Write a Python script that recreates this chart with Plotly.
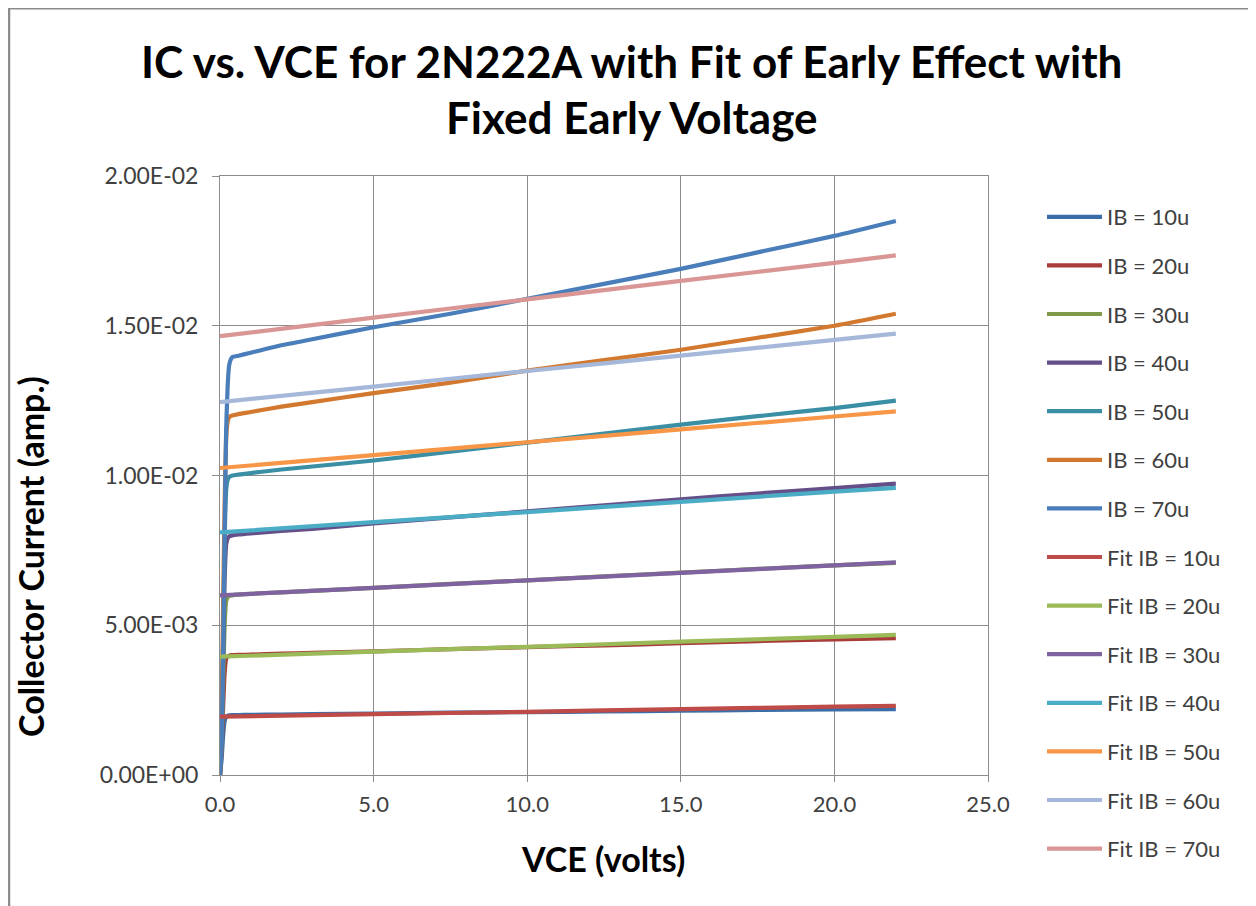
import plotly.graph_objects as go

# ---------------- data ----------------
vce_meas = [0, 0.05, 0.1, 0.15, 0.2, 0.25, 0.3, 0.4, 0.6, 1, 2, 3, 5, 7.5, 10, 12.5, 15, 17.5, 20, 22]
ic_10u = [0, 0.5e-3, 1.3e-3, 1.8e-3, 1.95e-3, 1.98e-3, 1.99e-3, 2.0e-3, 2.0e-3, 2.01e-3, 2.02e-3, 2.03e-3, 2.05e-3, 2.08e-3, 2.1e-3, 2.12e-3, 2.15e-3, 2.17e-3, 2.19e-3, 2.2e-3]
ic_20u = [0, 0.8e-3, 2.2e-3, 3.4e-3, 3.88e-3, 3.95e-3, 3.98e-3, 4.0e-3, 4.01e-3, 4.02e-3, 4.05e-3, 4.08e-3, 4.13e-3, 4.2e-3, 4.27e-3, 4.33e-3, 4.4e-3, 4.47e-3, 4.53e-3, 4.57e-3]
ic_30u = [0, 1.0e-3, 3.0e-3, 5.0e-3, 5.8e-3, 5.93e-3, 5.98e-3, 6.0e-3, 6.02e-3, 6.05e-3, 6.1e-3, 6.15e-3, 6.25e-3, 6.38e-3, 6.5e-3, 6.63e-3, 6.76e-3, 6.88e-3, 7.0e-3, 7.08e-3]
ic_40u = [0, 1.2e-3, 3.8e-3, 6.5e-3, 7.7e-3, 7.9e-3, 7.97e-3, 8.0e-3, 8.03e-3, 8.07e-3, 8.15e-3, 8.22e-3, 8.4e-3, 8.6e-3, 8.8e-3, 9.0e-3, 9.2e-3, 9.4e-3, 9.58e-3, 9.73e-3]
ic_50u = [0, 1.5e-3, 4.5e-3, 7.8e-3, 9.5e-3, 9.85e-3, 9.95e-3, 10.0e-3, 10.03e-3, 10.08e-3, 10.2e-3, 10.3e-3, 10.5e-3, 10.8e-3, 11.1e-3, 11.4e-3, 11.7e-3, 11.98e-3, 12.25e-3, 12.5e-3]
ic_60u = [0, 1.8e-3, 5.5e-3, 9.0e-3, 11.2e-3, 11.8e-3, 11.95e-3, 12.0e-3, 12.05e-3, 12.12e-3, 12.3e-3, 12.45e-3, 12.75e-3, 13.1e-3, 13.5e-3, 13.85e-3, 14.2e-3, 14.6e-3, 15.0e-3, 15.4e-3]
ic_70u = [0, 1.0e-3, 4.0e-3, 8.0e-3, 11.5e-3, 13.0e-3, 13.7e-3, 13.95e-3, 14.0e-3, 14.1e-3, 14.35e-3, 14.55e-3, 14.95e-3, 15.4e-3, 15.9e-3, 16.4e-3, 16.9e-3, 17.45e-3, 18.0e-3, 18.5e-3]

vce_fit = [0, 5, 10, 15, 20, 22]
fit_10u = [1.95e-3, 2.03e-3, 2.11e-3, 2.2e-3, 2.28e-3, 2.31e-3]
fit_20u = [3.95e-3, 4.12e-3, 4.28e-3, 4.45e-3, 4.61e-3, 4.68e-3]
fit_30u = [6.0e-3, 6.25e-3, 6.5e-3, 6.75e-3, 7.0e-3, 7.1e-3]
fit_40u = [8.1e-3, 8.44e-3, 8.78e-3, 9.12e-3, 9.46e-3, 9.59e-3]
fit_50u = [10.25e-3, 10.68e-3, 11.11e-3, 11.54e-3, 11.97e-3, 12.14e-3]
fit_60u = [12.45e-3, 12.97e-3, 13.49e-3, 14.0e-3, 14.53e-3, 14.74e-3]
fit_70u = [14.65e-3, 15.27e-3, 15.88e-3, 16.5e-3, 17.1e-3, 17.35e-3]

y_tickvals = [0, 0.005, 0.01, 0.015, 0.02]
y_ticktext = ["0.00E+00", "5.00E-03", "1.00E-02", "1.50E-02", "2.00E-02"]
x_tickvals = [0, 5, 10, 15, 20, 25]

title_lines = ["IC vs. VCE for 2N222A with Fit of Early Effect with", "Fixed Early Voltage"]
x_title = "VCE (volts)"
y_title = "Collector Current (amp.)"

series = [
    ("IB = 10u", vce_meas, ic_10u, "#3A6EA8"),
    ("IB = 20u", vce_meas, ic_20u, "#A83C39"),
    ("IB = 30u", vce_meas, ic_30u, "#7F9A49"),
    ("IB = 40u", vce_meas, ic_40u, "#654F89"),
    ("IB = 50u", vce_meas, ic_50u, "#3B8FA5"),
    ("IB = 60u", vce_meas, ic_60u, "#D3782F"),
    ("IB = 70u", vce_meas, ic_70u, "#4A7EBB"),
    ("Fit IB = 10u", vce_fit, fit_10u, "#BE4B48"),
    ("Fit IB = 20u", vce_fit, fit_20u, "#9BBB59"),
    ("Fit IB = 30u", vce_fit, fit_30u, "#7F63A1"),
    ("Fit IB = 40u", vce_fit, fit_40u, "#4BACC6"),
    ("Fit IB = 50u", vce_fit, fit_50u, "#F79646"),
    ("Fit IB = 60u", vce_fit, fit_60u, "#A5B8DA"),
    ("Fit IB = 70u", vce_fit, fit_70u, "#D99694"),
]

fig = go.Figure()
for i, (name, xs, ys, col) in enumerate(series):
    fig.add_trace(go.Scatter(
        x=xs, y=ys, mode="lines", name=name,
        line=dict(color=col, width=4.2, shape="spline", smoothing=0.5),
        legendgroup=f"g{i}",
    ))

FONT = "Lato"
OFF = 8  # page body margin
W, H = 1256 - OFF, 906 - OFF
L, R, T, B = 220 - OFF, W - (988 - OFF), 176 - OFF, H - (775 - OFF)
pw, ph = W - L - R, H - T - B

def px(p):
    return (p - OFF - L) / pw

def py(p):
    return (H - B - (p - OFF)) / ph

fig.update_layout(
    width=W, height=H,
    margin=dict(l=L, r=R, t=T, b=B, pad=0, autoexpand=False),
    paper_bgcolor="white", plot_bgcolor="white",
    font=dict(family=FONT, color="#404040"),
    showlegend=True,
    legend=dict(
        x=px(1042), xanchor="left", y=py(196), yanchor="top",
        font=dict(family=FONT, size=22, color="#404040"),
        tracegroupgap=17, itemwidth=55,
        bgcolor="rgba(0,0,0,0)",
        maxheight=720,
    ),
    xaxis=dict(
        range=[0, 25], tickvals=x_tickvals, tickformat=".1f",
        showgrid=True, gridcolor="#8C8C8C", gridwidth=1,
        showline=True, linecolor="#8C8C8C", linewidth=1, mirror=True,
        ticks="outside", ticklen=6, tickcolor="#8C8C8C",
        ticklabelstandoff=4,
        zeroline=False,
        tickfont=dict(family=FONT, size=22, color="#404040"),
    ),
    yaxis=dict(
        range=[0, 0.02], tickvals=y_tickvals, ticktext=y_ticktext,
        showgrid=True, gridcolor="#8C8C8C", gridwidth=1,
        showline=True, linecolor="#8C8C8C", linewidth=1, mirror=True,
        ticks="outside", ticklen=7, tickcolor="#8C8C8C",
        ticklabelstandoff=9,
        zeroline=False,
        tickfont=dict(family=FONT, size=23, color="#404040"),
    ),
)

# two-line title as annotations
for txt, yy in zip(title_lines, [61, 117]):
    fig.add_annotation(
        text=txt, xref="paper", yref="paper", x=px(631), y=py(yy),
        xanchor="center", yanchor="middle", showarrow=False,
        font=dict(family=FONT, size=44, color="black", weight="bold"),
    )

# axis titles
fig.add_annotation(
    text=x_title, xref="paper", yref="paper", x=px(603), y=py(859),
    xanchor="center", yanchor="middle", showarrow=False,
    font=dict(family=FONT, size=34, color="black", weight="bold"),
)
fig.add_annotation(
    text=y_title, xref="paper", yref="paper", x=px(30), y=py(557),
    xanchor="center", yanchor="middle", showarrow=False, textangle=-90,
    font=dict(family=FONT, size=34, color="black", weight="bold"),
)

# outer chart frame (left, top, right edges)
fig.add_shape(type="line", xref="paper", yref="paper",
              x0=px(9), x1=px(9), y0=py(906), y1=py(7),
              line=dict(color="#8C8C8C", width=2.5))
fig.add_shape(type="line", xref="paper", yref="paper",
              x0=px(8), x1=px(1251), y0=py(8.5), y1=py(8.5),
              line=dict(color="#8C8C8C", width=2))
fig.add_shape(type="line", xref="paper", yref="paper",
              x0=px(1251), x1=px(1251), y0=py(906), y1=py(8),
              line=dict(color="#D0D0D0", width=1))

fig.write_html("out.html")
